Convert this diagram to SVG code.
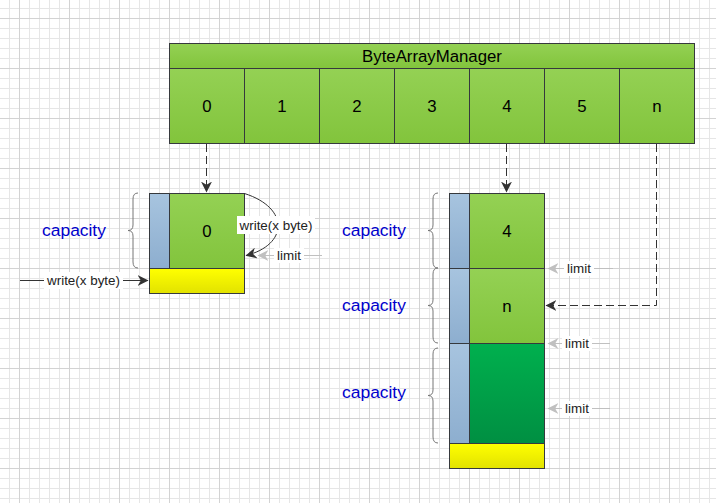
<svg xmlns="http://www.w3.org/2000/svg" width="716" height="503" viewBox="0 0 716 503">
<defs>
<pattern id="minor" x="9" y="8" width="10" height="10" patternUnits="userSpaceOnUse"><path d="M0.5 0V10M0 0.5H10" stroke="#e6e6e6" stroke-width="1" fill="none"/></pattern>
<pattern id="major" x="19" y="18" width="50" height="50" patternUnits="userSpaceOnUse"><path d="M0.5 0V50M0 0.5H50" stroke="#d3d3d3" stroke-width="1" fill="none"/></pattern>
<linearGradient id="gLight" x1="0" y1="0" x2="0" y2="1"><stop offset="0" stop-color="#94d154"/><stop offset="1" stop-color="#82c43c"/></linearGradient>
<linearGradient id="gDark" x1="0" y1="0" x2="0" y2="1"><stop offset="0" stop-color="#00b04e"/><stop offset="1" stop-color="#008f42"/></linearGradient>
<linearGradient id="gBlue" x1="0" y1="0" x2="0" y2="1"><stop offset="0" stop-color="#a7c4df"/><stop offset="1" stop-color="#8daecf"/></linearGradient>
<linearGradient id="gYellow" x1="0" y1="0" x2="0" y2="1"><stop offset="0" stop-color="#ffff00"/><stop offset="1" stop-color="#e2e200"/></linearGradient>
<marker id="ah" viewBox="0 0 10 10" refX="9.5" refY="5" markerWidth="11" markerHeight="11" markerUnits="userSpaceOnUse" orient="auto"><path d="M0,0 L10,5 L0,10 L3,5 z" fill="#333"/></marker>
<marker id="ahg" viewBox="0 0 10 10" refX="9.5" refY="5" markerWidth="11" markerHeight="11" markerUnits="userSpaceOnUse" orient="auto"><path d="M0,0 L10,5 L0,10 L3,5 z" fill="#c0c0c0"/></marker>
</defs>
<style>
.box{stroke:#36393d;stroke-width:1}
.t{font-family:"Liberation Sans",Arial,sans-serif;fill:#000;text-anchor:middle}
.big{font-size:16.8px}
.sm{font-size:13.4px;fill:#222}
.cap{font-family:"Liberation Sans",Arial,sans-serif;font-size:17.4px;fill:#0000cc;text-anchor:middle}
.brace{fill:none;stroke:#777;stroke-width:1}
.dash{fill:none;stroke:#333;stroke-width:1;stroke-dasharray:8,4}
.solid{fill:none;stroke:#333;stroke-width:1}
.gray{fill:none;stroke:#c0c0c0;stroke-width:1}
.bg{fill:#fff}
</style>
<rect width="716" height="503" fill="#fff"/>
<rect width="716" height="503" fill="url(#minor)"/>
<rect width="716" height="503" fill="url(#major)"/>

<g id="manager">
<rect class="box" x="169.5" y="43.5" width="525" height="25" fill="url(#gLight)"/>
<text class="t big" x="432" y="61.5">ByteArrayManager</text>
<rect class="box" x="169.5" y="68.5" width="75" height="75" fill="url(#gLight)"/>
<rect class="box" x="244.5" y="68.5" width="75" height="75" fill="url(#gLight)"/>
<rect class="box" x="319.5" y="68.5" width="75" height="75" fill="url(#gLight)"/>
<rect class="box" x="394.5" y="68.5" width="75" height="75" fill="url(#gLight)"/>
<rect class="box" x="469.5" y="68.5" width="75" height="75" fill="url(#gLight)"/>
<rect class="box" x="544.5" y="68.5" width="75" height="75" fill="url(#gLight)"/>
<rect class="box" x="619.5" y="68.5" width="75" height="75" fill="url(#gLight)"/>
<text class="t big" x="207" y="112">0</text>
<text class="t big" x="282" y="112">1</text>
<text class="t big" x="357" y="112">2</text>
<text class="t big" x="432" y="112">3</text>
<text class="t big" x="507" y="112">4</text>
<text class="t big" x="582" y="112">5</text>
<text class="t big" x="657" y="112">n</text>
</g>

<g id="block0">
<rect class="box" x="149.5" y="193.5" width="20" height="75" fill="url(#gBlue)"/>
<rect class="box" x="169.5" y="193.5" width="75" height="75" fill="url(#gLight)"/>
<rect class="box" x="149.5" y="268.5" width="95" height="25" fill="url(#gYellow)"/>
<text class="t big" x="207" y="237">0</text>
<path class="brace" d="M138,193 Q133,193 133,199 L133,225 Q133,230.5 128,230.5 Q133,230.5 133,236 L133,262 Q133,268 138,268"/>
<text class="cap" x="74" y="236">capacity</text>
</g>

<g id="stack">
<rect class="box" x="449.5" y="193.5" width="20" height="75" fill="url(#gBlue)"/>
<rect class="box" x="469.5" y="193.5" width="75" height="75" fill="url(#gLight)"/>
<rect class="box" x="449.5" y="268.5" width="20" height="75" fill="url(#gBlue)"/>
<rect class="box" x="469.5" y="268.5" width="75" height="75" fill="url(#gLight)"/>
<rect class="box" x="449.5" y="343.5" width="20" height="100" fill="url(#gBlue)"/>
<rect class="box" x="469.5" y="343.5" width="75" height="100" fill="url(#gDark)"/>
<rect class="box" x="449.5" y="443.5" width="95" height="25" fill="url(#gYellow)"/>
<text class="t big" x="507" y="237">4</text>
<text class="t big" x="507" y="312">n</text>
<path class="brace" d="M438,193 Q433,193 433,199 L433,225 Q433,230.5 428,230.5 Q433,230.5 433,236 L433,262 Q433,268 438,268"/>
<path class="brace" d="M438,268 Q433,268 433,274 L433,300 Q433,305.5 428,305.5 Q433,305.5 433,311 L433,337 Q433,343 438,343"/>
<path class="brace" d="M438,348 Q433,348 433,354 L433,390 Q433,395.5 428,395.5 Q433,395.5 433,401 L433,437 Q433,443 438,443"/>
<text class="cap" x="374" y="236">capacity</text>
<text class="cap" x="374" y="311">capacity</text>
<text class="cap" x="374" y="398">capacity</text>
</g>

<g id="connectors">
<path class="dash" d="M206.5,144 V192" marker-end="url(#ah)"/>
<path class="dash" d="M506.5,144 V192" marker-end="url(#ah)"/>
<path class="dash" d="M656.5,144 V305.5 H546" marker-end="url(#ah)"/>
<path class="solid" d="M244.5,193.5 C290,208 288,245 246,255.5" stroke-width="1.5" marker-end="url(#ah)"/>
<rect class="bg" x="237" y="216" width="78" height="18"/>
<text class="t sm" x="276" y="230">write(x byte)</text>
<path class="solid" d="M20,280.5 H148" marker-end="url(#ah)"/>
<rect class="bg" x="44" y="272" width="79" height="17"/>
<text class="t sm" x="83.5" y="285">write(x byte)</text>
<path class="gray" d="M322,255.5 H258" marker-end="url(#ahg)"/>
<rect class="bg" x="274" y="248" width="30" height="15"/>
<text class="t sm" x="289" y="260">limit</text>
<path class="gray" d="M613,268.5 H548" marker-end="url(#ahg)"/>
<rect class="bg" x="564" y="261" width="30" height="15"/>
<text class="t sm" x="579" y="273">limit</text>
<path class="gray" d="M610,343.5 H548" marker-end="url(#ahg)"/>
<rect class="bg" x="562" y="336" width="30" height="15"/>
<text class="t sm" x="577" y="348">limit</text>
<path class="gray" d="M610,408.5 H548" marker-end="url(#ahg)"/>
<rect class="bg" x="562" y="401" width="30" height="15"/>
<text class="t sm" x="577" y="413">limit</text>
</g>
</svg>
